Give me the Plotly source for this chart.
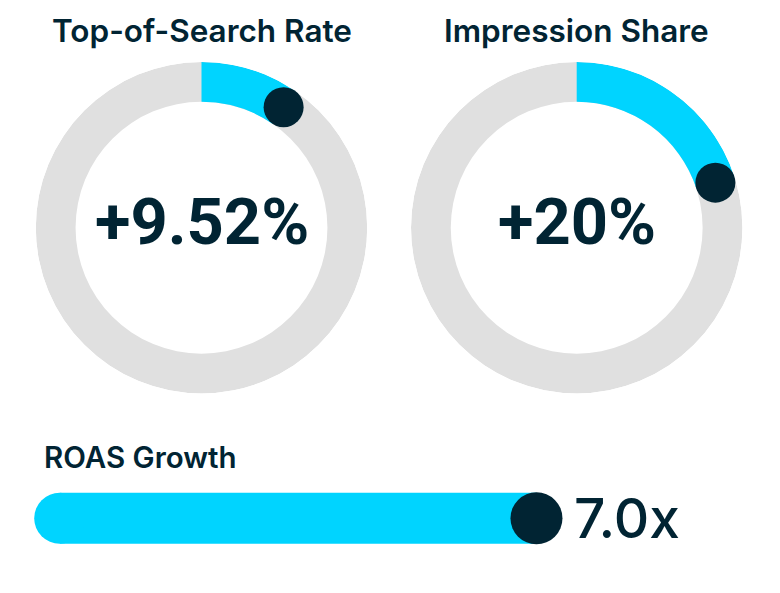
import plotly.graph_objects as go

# ---- data ----
gauge_titles = ["Top-of-Search Rate", "Impression Share"]
gauge_values = [9.52, 20.0]          # percent of full circle
gauge_labels = ["+9.52%", "+20%"]
bar_title = "ROAS Growth"
bar_value = 7.0
bar_max = 10.0
bar_label = "7.0x"

CYAN = "#00D4FF"
DARK = "#012433"
GRAY = "#E0E0E0"
FONT = "Inter"
NUM_FONT = "Roboto"

W, H = 780, 593
OFF = 8  # page body margin


def fx(px):
    return (px - OFF) / W


def fy(py):
    return 1 - (py - OFF) / H


centers = [201.5, 576.7]
cy = 227.7
R = 165.7
hole = 0.76

fig = go.Figure()
layout_polars = {}
annotations = []

for i, (title, val, lab) in enumerate(zip(gauge_titles, gauge_values, gauge_labels)):
    cx = centers[i]
    dom = dict(x=[fx(cx - R), fx(cx + R)], y=[fy(cy + R), fy(cy - R)])
    pname = "polar" if i == 0 else f"polar{i + 1}"
    # gray track
    fig.add_trace(go.Barpolar(
        r=[1 - hole], base=[hole], theta=[180], width=[360],
        marker=dict(color=GRAY, line=dict(width=0)), subplot=pname,
        showlegend=False, hoverinfo="skip"))
    # cyan progress arc
    fig.add_trace(go.Barpolar(
        r=[1 - hole], base=[hole], theta=[val * 3.6 / 2], width=[val * 3.6],
        marker=dict(color=CYAN, line=dict(width=0)), subplot=pname,
        showlegend=False, hoverinfo="skip"))
    # end dot
    fig.add_trace(go.Scatterpolar(
        r=[(1 + hole) / 2], theta=[val * 3.6], mode="markers",
        marker=dict(size=40, color=DARK, line=dict(width=0)), subplot=pname,
        cliponaxis=False, showlegend=False, hoverinfo="skip"))
    layout_polars[pname] = dict(
        domain=dom, bgcolor="rgba(0,0,0,0)", bargap=0,
        radialaxis=dict(visible=False, range=[0, 1]),
        angularaxis=dict(visible=False, rotation=90, direction="clockwise"))
    annotations.append(dict(
        text=title, x=fx(cx), y=fy(31), xref="paper", yref="paper",
        showarrow=False, xanchor="center", yanchor="middle",
        font=dict(family=FONT, size=31.5, color=DARK, weight=600)))
    annotations.append(dict(
        text=lab, x=fx(cx), y=fy(222), xref="paper", yref="paper",
        showarrow=False, xanchor="center", yanchor="middle",
        font=dict(family=NUM_FONT, size=65, color=DARK, weight=700)))

# ---- ROAS bar ----
fig.add_trace(go.Scatter(
    x=[0, bar_value], y=[0, 0], mode="lines",
    line=dict(color=CYAN, width=51), showlegend=False, hoverinfo="skip",
    cliponaxis=False))
fig.add_trace(go.Scatter(
    x=[0], y=[0], mode="markers",
    marker=dict(color=CYAN, size=51, line=dict(width=0)),
    showlegend=False, hoverinfo="skip", cliponaxis=False))
fig.add_trace(go.Scatter(
    x=[bar_value], y=[0], mode="markers",
    marker=dict(color=DARK, size=52, line=dict(width=0)),
    showlegend=False, hoverinfo="skip", cliponaxis=False))

annotations.append(dict(
    text=bar_title, x=fx(42), y=fy(457), xref="paper", yref="paper",
    showarrow=False, xanchor="left", yanchor="middle",
    font=dict(family=FONT, size=29.5, color=DARK, weight=600)))
annotations.append(dict(
    text=bar_label, x=bar_value, y=0, xref="x", yref="y", xshift=35.5,
    showarrow=False, xanchor="left", yanchor="middle",
    font=dict(family=FONT, size=55, color=DARK, weight=500)))

yc = fy(518.3)
fig.update_layout(
    width=W, height=H, margin=dict(l=0, r=0, t=0, b=0),
    paper_bgcolor="white", plot_bgcolor="white",
    xaxis=dict(domain=[fx(59.7), fx(740.8)], range=[0, bar_max], visible=False,
               fixedrange=True),
    yaxis=dict(domain=[yc - 0.1, yc + 0.1], range=[-1, 1], visible=False,
               fixedrange=True),
    annotations=annotations,
    **layout_polars,
)

fig.write_html("out.html")
